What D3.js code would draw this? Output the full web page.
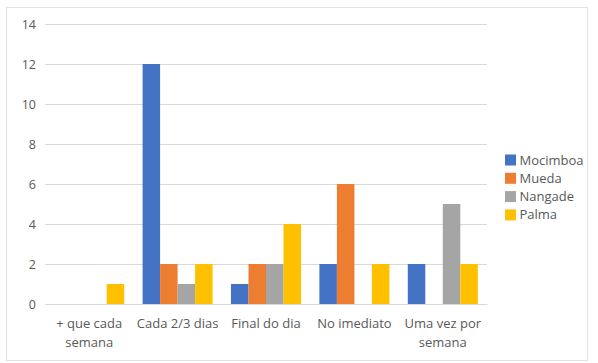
<!DOCTYPE html>
<html>
<head>
<meta charset="utf-8">
<script src="https://cdn.jsdelivr.net/npm/d3@7"></script>
<style>
  html, body { margin: 0; padding: 0; background: #fff; }
  svg { display: block; }
  text { font-family: "Open Sans", "Noto Sans", sans-serif; fill: #595959; }
</style>
</head>
<body>
<svg id="chart" width="598" height="363"></svg>
<script>
// Frequency categories (x axis)
const categories = [
  ["+ que cada", "semana"],
  ["Cada 2/3 dias"],
  ["Final do dia"],
  ["No imediato"],
  ["Uma vez por", "semana"]
];
const categoryKeys = categories.map(c => c.join(" "));

// Districts (series)
const seriesNames = ["Mocimboa", "Mueda", "Nangade", "Palma"];
const seriesColors = ["#4472C4", "#ED7D31", "#A5A5A5", "#FFC000"];

// Counts per district, one value per category
const mocimboa = [0, 12, 1, 2, 2];
const mueda    = [0, 2, 2, 6, 0];
const nangade  = [0, 1, 2, 0, 5];
const palma    = [1, 2, 4, 2, 2];
const seriesValues = [mocimboa, mueda, nangade, palma];

const yTicks = [0, 2, 4, 6, 8, 10, 12, 14];

const svg = d3.select("#chart");
const plot = { left: 45, right: 487, top: 24, bottom: 304 };

// Chart frame
svg.append("rect")
  .attr("x", 6.5).attr("y", 7.5)
  .attr("width", 581).attr("height", 353)
  .attr("fill", "#fff")
  .attr("stroke", "#E3E3E3");

const x0 = d3.scaleBand()
  .domain(categoryKeys)
  .range([plot.left, plot.right])
  .paddingInner(0).paddingOuter(0);

const x1 = d3.scaleBand()
  .domain(seriesNames)
  .range([0, x0.bandwidth()])
  .paddingInner(0)
  .paddingOuter(0.525);

const y = d3.scaleLinear()
  .domain([0, 14])
  .range([plot.bottom, plot.top]);

// Horizontal gridlines + y labels
const yAxis = d3.axisLeft(y)
  .tickValues(yTicks)
  .tickSize(-(plot.right - plot.left))
  .tickPadding(9)
  .tickFormat(d3.format("d"));

const gy = svg.append("g")
  .attr("transform", `translate(${plot.left},0)`)
  .call(yAxis);
gy.select(".domain").remove();
gy.selectAll(".tick line").attr("stroke", "#D9D9D9").attr("stroke-width", 1);
gy.selectAll(".tick text")
  .style("font-size", "12.5px")
  .attr("fill", "#595959");

// Bars
const groups = svg.append("g")
  .selectAll("g")
  .data(categoryKeys)
  .join("g")
  .attr("transform", d => `translate(${x0(d)},0)`);

groups.selectAll("rect")
  .data((d, i) => seriesNames.map((s, j) => ({ s, j, v: seriesValues[j][i] })))
  .join("rect")
  .attr("x", d => x1(d.s))
  .attr("width", x1.bandwidth())
  .attr("y", d => y(d.v))
  .attr("height", d => y(0) - y(d.v))
  .attr("fill", d => seriesColors[d.j]);

// Category axis line
const xAxis = d3.axisBottom(x0).tickSize(0).tickFormat(() => "");
const gx = svg.append("g")
  .attr("transform", `translate(0,${plot.bottom})`)
  .call(xAxis);
gx.select(".domain").attr("stroke", "#D9D9D9");

// Category labels (wrapped)
const labels = svg.append("g");
categories.forEach((lines, i) => {
  const cx = x0(categoryKeys[i]) + x0.bandwidth() / 2;
  const t = labels.append("text")
    .attr("text-anchor", "middle")
    .style("font-size", "13px");
  lines.forEach((ln, k) => {
    t.append("tspan")
      .attr("x", cx)
      .attr("y", 328 + k * 19)
      .text(ln);
  });
});

// Legend
const legend = svg.append("g").attr("transform", "translate(505,154.5)");
seriesNames.forEach((s, i) => {
  const g = legend.append("g").attr("transform", `translate(0,${i * 18.3})`);
  g.append("rect").attr("width", 11).attr("height", 11).attr("fill", seriesColors[i]);
  g.append("text").attr("x", 14.5).attr("y", 10)
    .style("font-size", "13px").text(s);
});
</script>
</body>
</html>
